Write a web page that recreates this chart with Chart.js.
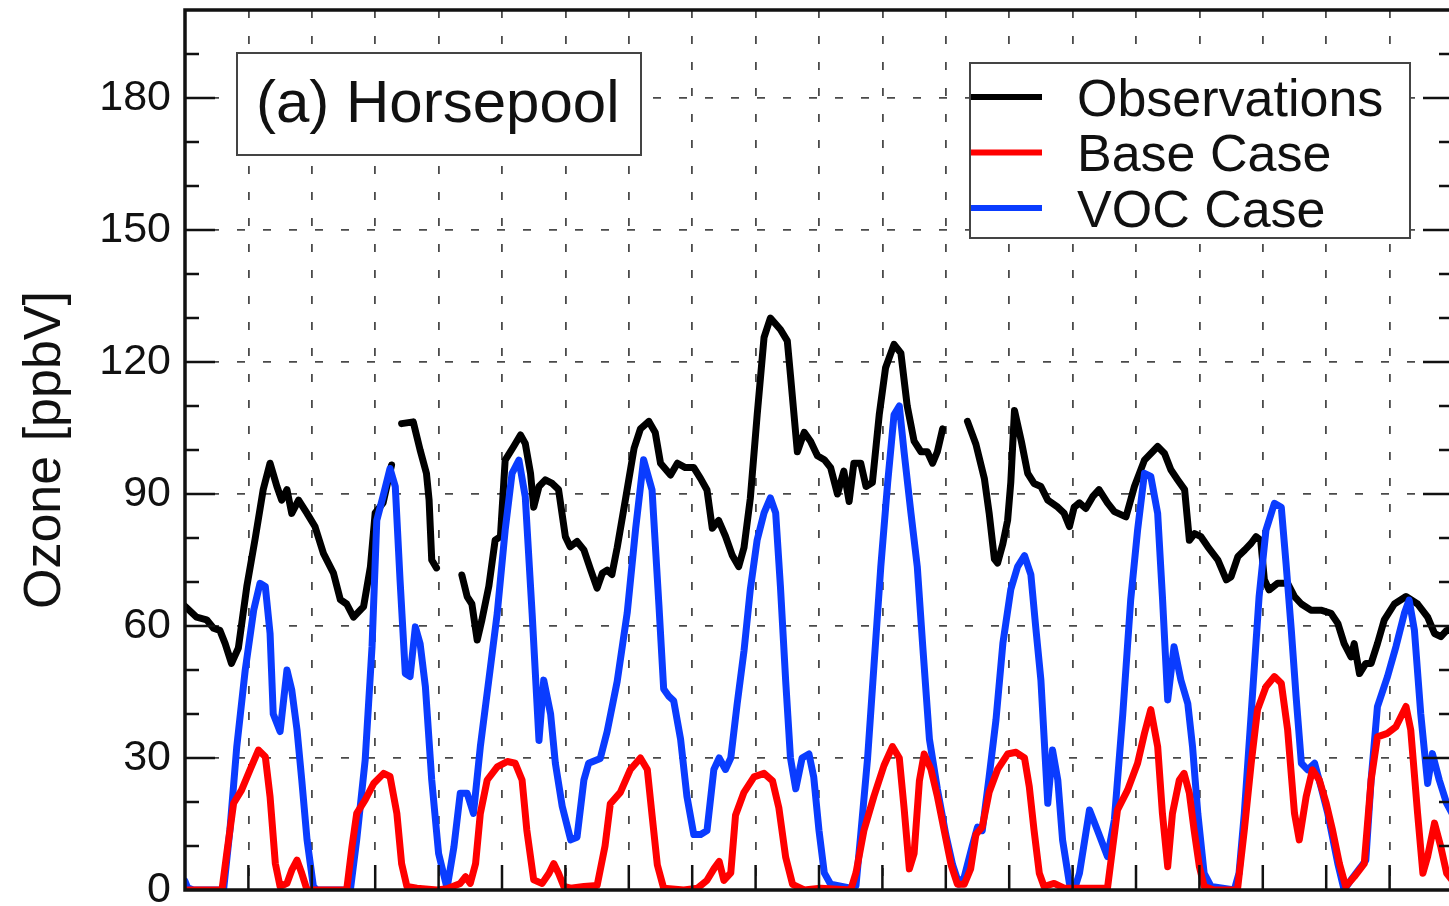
<!DOCTYPE html>
<html>
<head>
<meta charset="utf-8">
<script src="https://cdn.jsdelivr.net/npm/chart.js@4.4.0/dist/chart.umd.min.js"></script>
<style>
  html, body { margin: 0; padding: 0; background: #fff; overflow: hidden; }
  #wrap { width: 1460px; height: 906px; }
</style>
</head>
<body>
<div id="wrap"><canvas id="ozone"></canvas></div>
<script>
// hours since start of the period, ozone in ppbV (null = gap in the observations)
const obsHours = [0, 2.2, 4.1, 5.4, 6.6, 7.6, 8.8, 10.1, 11.7, 13.3, 14.8, 16.1, 17.4, 18.3, 19.3, 20.2, 21.5, 23.1, 24.6, 26.2, 28.1, 29.4, 30.6, 31.9, 33.8, 35.1, 36, 37.5, 39.1,
  40,
  41, 43.2, 44.5, 45.7, 46.2, 46.7, 47.6,
  50,
  52.4, 53.4, 54.3, 55.3, 56.2, 57.5, 58.7, 59.7, 60.6, 62.2, 63.5, 64.4, 65.4, 66, 67, 68.2, 69.5, 70.7, 72, 72.9, 74.2, 75.5, 76.8, 78, 79, 79.9, 80.8, 81.8, 83.4, 85, 86.2, 87.8, 89, 90, 91.9, 93.2, 94.7, 96.3, 97.6, 98.8, 99.8, 101, 102.3, 103.6, 104.8, 105.8, 107, 108.3, 109.6, 110.8, 112.7, 114, 114.6, 115.9, 117.2, 118.4, 119.7, 121, 122.2, 123.5, 124.7, 125.7, 126.6, 127.9, 128.9, 130.1, 131.4, 132.6, 134.2, 135.5, 136.7, 138, 139.3, 140.5, 141.5, 142.4, 143.4,
  145,
  148.1, 149.7, 151.3, 152.2, 153.2, 153.8, 154.8, 155.7, 156.3, 157, 158.3, 159.5, 160.7, 162, 163.3, 165.2, 166.4, 167.4, 168.3, 169.3, 170.5, 171.8, 173, 174.6, 175.9, 178.1, 179.7, 181.6, 184.1, 185.4, 186.6, 187.9, 189.2, 190.1, 191.1, 192.3, 193.6, 195.5, 197.1, 198, 199.3, 200.6, 201.8, 202.7, 203.6, 204.3, 205.2, 206.8, 208.7, 210, 211.3, 213.1, 215, 216.9, 218.2, 219.4, 220.7, 221.3, 222.3, 223.5, 224.5, 225.7, 227, 228.9, 231.1, 233.3, 235.2, 236.5, 237.7, 238.8, 240];
const obsOzone = [64.5, 62, 61.4, 59.5, 59, 56, 51.5, 55, 69, 80, 91, 97, 91.7, 88.6, 91, 85.6, 88.6, 85.6, 82.6, 76.5, 72, 66, 65, 62, 64.4, 73.5, 85.7, 88, 96.6,
  null,
  106, 106.4, 100, 94.7, 88.6, 75, 73.2,
  null,
  71.6, 66.7, 65, 56.8, 61.4, 69, 79.5, 80.3, 97.7, 100.8, 103.4, 101.5, 94.7, 87, 91.7, 93.2, 92.4, 91, 80.3, 78, 79.2, 77.3, 72.7, 68.6, 72, 72.7, 71.7, 77.8, 89, 100.4, 104.8, 106.5, 104, 97, 94.3, 97, 96, 96, 93.5, 90.9, 82.2, 84, 80.4, 76, 73.5, 77.8, 89, 108, 125.6, 130, 127.4, 124.8, 117, 99.6, 104, 102, 98.7, 97.8, 96, 90, 95.2, 88.3, 97, 97, 91.7, 92.6, 108, 118.7, 124, 122, 110, 102, 99.6, 99.6, 97, 99.6, 104.8,
  null,
  106.5, 101.3, 93.5, 85.7, 75.2, 74.3, 78.7, 84, 92.6, 109, 102, 94.7, 92.4, 91.7, 88.6, 87, 85.6, 82.6, 87, 88, 86.7, 89.4, 91, 88, 86, 84.8, 91.7, 97.7, 100.8, 99.2, 95.5, 93.2, 91, 79.5, 81, 80.3, 78, 75, 70.5, 71.2, 75.8, 77.3, 78.8, 80.3, 79.5, 70.5, 68.2, 69.7, 69.7, 66.7, 65, 63.6, 63.6, 62.9, 60.6, 56, 53, 56, 49.2, 51.5, 51.5, 56, 61.4, 65, 66.7, 65, 62, 58.3, 57.6, 59, 59];

const baseHours = [0, 7, 7.9, 9.2, 10.7, 12.3, 13.9, 15.2, 16.1, 17.1, 18, 19.3, 20.2, 21.2, 22.1, 23.1, 30.6, 31.6, 32.5, 34.1, 35.7, 37.6, 38.8, 40.1, 41, 42, 43.9, 47.7, 49.6, 52.1, 53.1, 54, 55, 55.9, 57.2, 59.1, 61, 62.5, 63.8, 64.7, 66, 67.6, 68.9, 69.8, 70.7, 71.7, 73, 75.5, 78, 79.5, 80.5, 82.4, 84.3, 86.2, 87.5, 88.4, 89.4, 90.6, 94.4, 97, 98.8, 100.1, 101.1, 102, 103.3, 104.2, 105.8, 107.7, 109.6, 111.2, 112.4, 113.7, 115, 117.2, 120.3, 126, 127, 128.5, 130.4, 132.3, 133.9, 135.2, 136.1, 137.1, 138, 139, 139.9, 141.2, 142.4, 143.7, 145, 146.2, 147.5, 148.7, 149.7, 150.9, 152.2, 153.8, 155.7, 157.3, 158.9, 159.8, 160.7, 161.7, 162.6, 164.5, 166.4, 174.6, 175.6, 176.5, 178.4, 180.3, 181.6, 182.8, 184.1, 185, 186, 186.9, 188.2, 189.1, 190.1, 191, 192, 192.9, 194.8, 199.2, 200.5, 201.8, 203, 204.6, 206.2, 207.5, 208.7, 210, 210.9, 212.2, 213.4, 214.7, 216, 217.2, 218.5, 219.7, 221.3, 223.2, 224.5, 225.7, 227.6, 229.2, 231.1, 232, 233.3, 234.3, 235.2, 236.5, 237.7, 238.8, 240];
const baseOzone = [0, 0, 8.3, 19.7, 22.7, 27.3, 31.8, 30.3, 21.2, 6, 0.8, 1.5, 4.5, 6.8, 3.8, 0, 0, 9.8, 17.4, 20.5, 24.2, 26.5, 25.8, 17.4, 6, 0.8, 0.4, 0, 0.3, 1.5, 3, 1.5, 6, 17.4, 25, 28, 29.2, 28.8, 25, 13.6, 2.3, 1.5, 3.8, 6, 3.8, 0.8, 0.4, 0.8, 1, 10, 19.6, 22.2, 27.4, 30, 27.4, 17, 5.7, 0.4, 0, 0.4, 2.2, 4.8, 6.5, 2.2, 3.9, 17, 22.2, 25.7, 26.5, 24.8, 18.7, 7.4, 1.3, 0, 0.4, 0, 3.9, 13.5, 21.3, 28.3, 32.6, 30, 18.7, 4.8, 8.3, 24.8, 30.9, 27.4, 21.3, 13.5, 5.7, 1.3, 1.3, 4.8, 12.6, 14.3, 22.2, 27.4, 30.9, 31.3, 30, 23.5, 13.6, 3.8, 0.8, 1.5, 0.4, 0.4, 9.8, 18.2, 22.7, 28.8, 35.6, 41, 32.6, 17.4, 5.3, 17.4, 25, 26.5, 22, 13.6, 5.3, 0.8, 0, 0, 13.6, 28.8, 41, 46.2, 48.5, 47, 36.4, 17.4, 11.4, 21.2, 27.3, 25, 19.7, 13.6, 6, 0.8, 3, 6, 25, 34.8, 35.6, 37.1, 41.7, 36.4, 17.4, 3.8, 7.6, 15.2, 9.8, 3.8, 2];

const vocHours = [0, 0.5, 1.6, 7.3, 8.5, 9.8, 11.4, 13, 14.2, 15.2, 16.1, 16.7, 18, 19.3, 20.2, 21.2, 22.1, 23.1, 24.3, 25, 31.3, 32.5, 34.1, 35.4, 36.3, 37.6, 38.8, 39.8, 40.7, 41.7, 42.6, 43.6, 44.5, 45.5, 46.7, 48, 49.6, 50.9, 52.1, 53.4, 54.6, 55.9, 57.5, 59.1, 60.6, 61.9, 63.2, 64.4, 65.7, 67, 67.9, 69.2, 70.1, 71.4, 73, 74.2, 75.5, 76.4, 78.6, 79.9, 81.8, 83.7, 85.3, 86.8, 88.4, 89.7, 90.6, 91.6, 92.5, 93.8, 95, 96.3, 97.6, 98.8, 100.1, 101.1, 102.3, 103.3, 104.5, 105.8, 107, 108.3, 109.6, 110.8, 111.8, 112.7, 113.7, 114.6, 115.6, 116.8, 118.1, 119, 120, 121, 122.2, 126, 127, 127.9, 129.2, 130.4, 131.7, 133, 134.2, 135.2, 136.1, 137.4, 138.6, 139.6, 140.9, 142.4, 144, 145.3, 146.5, 147.5, 149, 150, 150.9, 152.2, 153.5, 154.8, 156.3, 157.6, 158.9, 160.1, 161, 162, 163.3, 164.2, 165.2, 166.1, 167.4, 168.3, 169.3, 171.2, 172.7, 174.6, 175.9, 177.5, 179, 180.3, 181.6, 182.8, 184.1, 185, 186, 187.2, 188.5, 189.8, 190.7, 191.7, 192.9, 194.2, 198.6, 199.5, 200.5, 201.8, 203.3, 204.6, 206.2, 207.5, 208.4, 209.4, 210.3, 211.3, 212.5, 213.8, 215, 216.3, 218.2, 219.4, 220.7, 222.6, 223.5, 224.5, 225.7, 227.6, 229.2, 230.8, 231.7, 232.7, 233.9, 235.2, 236.1, 237.4, 238.8, 240];
const vocOzone = [2, 0.5, 0, 0, 13.6, 32.6, 50, 63.6, 69.7, 69, 58.3, 40, 36, 50, 45.5, 36.4, 25, 11.4, 0.8, 0, 0, 11.4, 29.5, 55.3, 84, 90, 95.8, 91.7, 70.5, 49.2, 48.5, 59.8, 56, 46.2, 25, 8.3, 0.4, 9.8, 22, 22, 17.4, 32.6, 47.7, 62.9, 81.8, 94.7, 97.7, 89.4, 62.9, 34, 47.7, 40, 28.8, 19, 11.4, 12, 25, 28.8, 29.9, 36, 47.4, 63, 82.2, 97.8, 90.9, 64.8, 45.7, 44, 43, 34.3, 21.3, 12.6, 12.6, 13.5, 27.4, 30, 27.4, 30, 42.2, 54.3, 68.3, 79.6, 85.7, 89.1, 85.7, 69, 47.4, 30, 23, 30, 30.9, 25.7, 13.5, 3.9, 1.3, 0.4, 1, 12.6, 30, 50.9, 73.5, 92.6, 108, 110, 99.6, 85.7, 73.5, 56, 34.3, 23, 12.6, 5.7, 1.3, 3, 10, 14.3, 13.5, 25.7, 38.7, 56, 68.3, 73.5, 76, 71.7, 60, 47.7, 19.7, 31.8, 25, 11.4, 1.5, 0, 3.8, 18.2, 13.6, 7.6, 15.9, 40, 66, 81.8, 94.7, 94, 85.6, 66.7, 43.2, 55.3, 47.7, 42.4, 32.6, 17.4, 3.8, 0.8, 0, 3.8, 17.4, 40, 66.7, 81.8, 87.9, 87, 74.2, 59, 44, 28.8, 27.3, 28.8, 23.5, 17.4, 6, 0, 2.3, 5.3, 6.8, 25, 41.7, 48.5, 55.3, 62.9, 65.9, 59, 40, 24.2, 31, 25, 19.7, 17];

const yTicks = [0, 30, 60, 90, 120, 150, 180];

const FONT = '"Liberation Sans", Arial, Helvetica, sans-serif';

function toPoints(hours, values) {
  return hours.map((h, i) => ({ x: h, y: values[i] }));
}

// frame, inward ticks, panel label and legend box
const framePlugin = {
  id: 'frame',
  afterDatasetsDraw(chart) {
    const { ctx, chartArea: a, scales: { x, y } } = chart;
    ctx.save();
    ctx.strokeStyle = '#111';
    ctx.lineWidth = 2.5;
    ctx.beginPath();
    for (let v = 10; v < 200; v += 10) {
      const py = y.getPixelForValue(v);
      const len = yTicks.includes(v) ? 30 : 14;
      ctx.moveTo(a.left, py); ctx.lineTo(a.left + len, py);
      ctx.moveTo(a.right, py); ctx.lineTo(a.right - len, py);
    }
    for (let h = 12; h < 240; h += 12) {
      const px = x.getPixelForValue(h);
      ctx.moveTo(px, a.bottom); ctx.lineTo(px, a.bottom - 25);
    }
    ctx.stroke();
    ctx.lineWidth = 3.5;
    ctx.strokeRect(a.left, a.top, a.right - a.left, a.bottom - a.top);

    // panel label
    ctx.fillStyle = '#fff';
    ctx.strokeStyle = '#444';
    ctx.lineWidth = 2;
    ctx.fillRect(237, 53, 404, 102);
    ctx.strokeRect(237, 53, 404, 102);
    ctx.fillStyle = '#111';
    ctx.font = '60px ' + FONT;
    ctx.textBaseline = 'alphabetic';
    ctx.fillText('(a) Horsepool', 256, 122);

    // legend
    ctx.fillStyle = '#fff';
    ctx.fillRect(970, 63, 440, 175);
    ctx.strokeRect(970, 63, 440, 175);
    ctx.font = '52px ' + FONT;
    chart.data.datasets.forEach((ds, i) => {
      const ly = 97 + i * 55.5;
      ctx.strokeStyle = ds.borderColor;
      ctx.lineWidth = 6;
      ctx.beginPath();
      ctx.moveTo(971, ly); ctx.lineTo(1042, ly);
      ctx.stroke();
      ctx.fillStyle = '#111';
      ctx.fillText(ds.label, 1077, ly + 18.5);
    });
    ctx.restore();
  }
};

new Chart(document.getElementById('ozone'), {
  type: 'line',
  data: {
    datasets: [
      { label: 'Observations', data: toPoints(obsHours, obsOzone), borderColor: '#000000', borderWidth: 7, order: 3 },
      { label: 'Base Case', data: toPoints(baseHours, baseOzone), borderColor: '#ff0000', borderWidth: 7, order: 1 },
      { label: 'VOC Case', data: toPoints(vocHours, vocOzone), borderColor: '#0a3cff', borderWidth: 7, order: 2 }
    ]
  },
  options: {
    responsive: true,
    maintainAspectRatio: false,
    animation: false,
    spanGaps: false,
    layout: { padding: { left: 0, top: 10, right: 7, bottom: 16 } },
    elements: {
      point: { radius: 0 },
      line: { tension: 0, borderJoinStyle: 'round', borderCapStyle: 'round', fill: false }
    },
    plugins: { legend: { display: false }, tooltip: { enabled: false } },
    scales: {
      x: {
        type: 'linear',
        min: 0,
        max: 240,
        ticks: { display: false, stepSize: 12 },
        border: { display: false, dash: [8, 18] },
        grid: {
          drawTicks: false,
          lineWidth: 1.8,
          color: c => (c.tick && c.tick.value > 0 && c.tick.value < 240) ? '#4a4a4a' : 'rgba(0,0,0,0)'
        }
      },
      y: {
        min: 0,
        max: 200,
        afterFit: s => { s.width = 185; s.paddingTop = 0; s.paddingBottom = 0; },
        ticks: {
          stepSize: 10,
          autoSkip: false,
          padding: 14,
          color: '#111',
          font: { family: FONT, size: 43 },
          callback: v => yTicks.includes(v) ? String(v) : ''
        },
        border: { display: false, dash: [8, 18] },
        grid: {
          drawTicks: false,
          lineWidth: 1.8,
          color: c => (c.tick && yTicks.includes(c.tick.value) && c.tick.value > 0) ? '#4a4a4a' : 'rgba(0,0,0,0)'
        },
        title: {
          display: true,
          text: 'Ozone [ppbV]',
          color: '#111',
          font: { family: FONT, size: 52 },
          padding: { top: 14, bottom: 0 }
        }
      }
    }
  },
  plugins: [framePlugin]
});
</script>
</body>
</html>
